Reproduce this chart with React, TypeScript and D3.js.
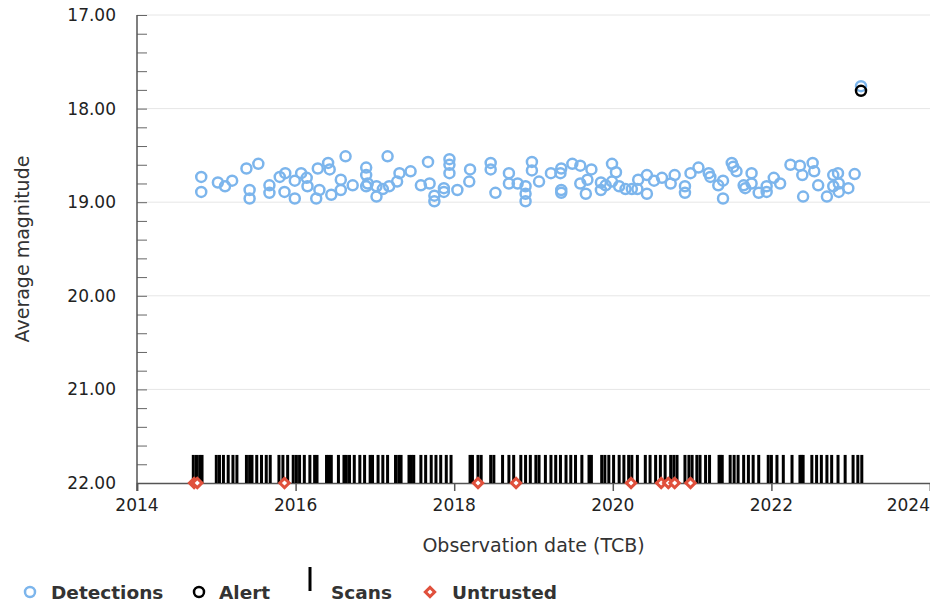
import React, { useEffect, useRef } from 'react';
import * as d3 from 'd3';

// detections: [observation date (decimal year), average magnitude]
const detections: [number, number][] = [
  [2014.81, 18.73], [2014.81, 18.89], [2015.02, 18.79], [2015.11, 18.83], [2015.20, 18.77],
  [2015.38, 18.64], [2015.53, 18.59], [2015.42, 18.87], [2015.42, 18.96], [2015.67, 18.82],
  [2015.67, 18.90], [2015.80, 18.73], [2015.87, 18.69], [2015.86, 18.89], [2015.99, 18.96],
  [2015.99, 18.77], [2016.07, 18.69], [2016.14, 18.74], [2016.15, 18.83], [2016.28, 18.64],
  [2016.41, 18.58], [2016.43, 18.65], [2016.26, 18.96], [2016.30, 18.87], [2016.45, 18.92],
  [2016.57, 18.76], [2016.57, 18.87], [2016.63, 18.51], [2016.72, 18.82],
  [2016.89, 18.63], [2016.89, 18.71], [2016.91, 18.80], [2016.89, 18.83], [2017.02, 18.83],
  [2017.02, 18.94], [2017.10, 18.86], [2017.16, 18.51], [2017.18, 18.83], [2017.28, 18.78],
  [2017.31, 18.69], [2017.45, 18.67], [2017.58, 18.82], [2017.69, 18.80], [2017.67, 18.57],
  [2017.75, 18.93], [2017.75, 18.99], [2017.87, 18.89], [2017.87, 18.85], [2017.94, 18.54],
  [2017.94, 18.60], [2017.94, 18.69], [2018.04, 18.87], [2018.20, 18.65], [2018.19, 18.78],
  [2018.46, 18.58], [2018.46, 18.65], [2018.52, 18.90], [2018.69, 18.69], [2018.69, 18.80],
  [2018.80, 18.80],
  [2018.90, 18.83], [2018.90, 18.91], [2018.90, 18.99], [2018.98, 18.57], [2018.98, 18.66],
  [2019.07, 18.78], [2019.22, 18.69], [2019.35, 18.64], [2019.34, 18.69], [2019.35, 18.87],
  [2019.35, 18.90], [2019.49, 18.59], [2019.59, 18.61], [2019.59, 18.80], [2019.68, 18.76],
  [2019.66, 18.91], [2019.73, 18.65], [2019.85, 18.87], [2019.85, 18.79], [2019.91, 18.82],
  [2019.99, 18.59], [2020.04, 18.68], [2019.99, 18.78], [2020.08, 18.83], [2020.16, 18.86],
  [2020.24, 18.86], [2020.31, 18.86], [2020.32, 18.76], [2020.43, 18.71], [2020.43, 18.91],
  [2020.52, 18.77], [2020.62, 18.74], [2020.73, 18.80], [2020.78, 18.71], [2020.91, 18.83],
  [2020.91, 18.90],
  [2020.98, 18.69], [2021.08, 18.63], [2021.21, 18.69], [2021.23, 18.73], [2021.33, 18.82],
  [2021.39, 18.77], [2021.39, 18.96], [2021.50, 18.58], [2021.52, 18.62], [2021.56, 18.67],
  [2021.65, 18.82], [2021.67, 18.85], [2021.75, 18.69], [2021.75, 18.80], [2021.84, 18.90],
  [2021.94, 18.89], [2021.94, 18.83], [2022.03, 18.74], [2022.11, 18.80], [2022.24, 18.60],
  [2022.36, 18.61], [2022.39, 18.71], [2022.40, 18.94], [2022.52, 18.58], [2022.54, 18.67],
  [2022.59, 18.82], [2022.70, 18.94], [2022.78, 18.71], [2022.84, 18.69], [2022.78, 18.83],
  [2022.85, 18.80], [2022.85, 18.89], [2022.97, 18.85], [2023.05, 18.70], [2023.13, 17.76]
];

const alerts: [number, number][] = [[2023.13, 17.81]];

// scan dates (decimal year)
const scans: number[] = [
  2014.71, 2014.75, 2014.79, 2014.82, 2015.00, 2015.04, 2015.09, 2015.15, 2015.21, 2015.26,
  2015.38, 2015.42, 2015.45, 2015.51, 2015.57, 2015.63, 2015.68, 2015.79, 2015.84, 2015.90,
  2015.97, 2016.01, 2016.05, 2016.11, 2016.18, 2016.24, 2016.27, 2016.39, 2016.42, 2016.45,
  2016.54, 2016.61, 2016.64, 2016.68, 2016.74, 2016.81, 2016.87, 2016.94, 2016.97, 2017.04,
  2017.10, 2017.16, 2017.26, 2017.30, 2017.33, 2017.43, 2017.46, 2017.49, 2017.58, 2017.64,
  2017.71, 2017.77, 2017.83, 2017.90, 2017.96, 2018.20, 2018.23, 2018.30, 2018.34, 2018.46,
  2018.50, 2018.61, 2018.69, 2018.75, 2018.84, 2018.90, 2018.96, 2019.03, 2019.07, 2019.15,
  2019.22, 2019.28, 2019.34, 2019.41, 2019.47, 2019.53, 2019.61, 2019.70, 2019.73, 2019.86,
  2019.90, 2019.95, 2020.01, 2020.08, 2020.14, 2020.20, 2020.24, 2020.31, 2020.41, 2020.47,
  2020.54, 2020.60, 2020.66, 2020.73, 2020.77, 2020.81, 2020.91, 2020.96, 2021.00, 2021.06,
  2021.10, 2021.17, 2021.22, 2021.34, 2021.36, 2021.38, 2021.48, 2021.53, 2021.58, 2021.65,
  2021.71, 2021.77, 2021.84, 2021.96, 2022.00, 2022.07, 2022.15, 2022.26, 2022.36, 2022.38,
  2022.40, 2022.51, 2022.57, 2022.63, 2022.70, 2022.76, 2022.84, 2022.93, 2023.03, 2023.09,
  2023.14
];

const untrusted: [number, number][] = [
  [2014.72, 22], [2014.76, 22], [2015.86, 22], [2018.30, 22], [2018.78, 22],
  [2020.23, 22], [2020.61, 22], [2020.70, 22], [2020.78, 22], [2020.98, 22]
];

const yTicks = [17, 18, 19, 20, 21, 22];
const xTicks = [2014, 2016, 2018, 2020, 2022, 2024];
const scanTop = 21.7;

const FONT = '"DejaVu Sans", sans-serif';

export default function App() {
  const ref = useRef<SVGSVGElement>(null);

  useEffect(() => {
    const svg = d3.select(ref.current);
    svg.selectAll('*').remove();

    const margin = { top: 15, left: 137, right: 0, bottom: 122 };
    const width = 930, height = 605;

    const x = d3.scaleLinear().domain([2014, 2024]).range([margin.left, width - margin.right]);
    const y = d3.scaleLinear().domain([17, 22]).range([margin.top, height - margin.bottom]);

    // grid lines
    svg.append('g')
      .selectAll('line')
      .data(yTicks.slice(0, -1))
      .enter().append('line')
      .attr('x1', x(2014)).attr('x2', x(2024))
      .attr('y1', d => y(d)).attr('y2', d => y(d))
      .attr('stroke', '#e6e6e6').attr('stroke-width', 1);

    // y axis (ticks inside)
    const yAxis = d3.axisRight(y)
      .tickValues(d3.range(17, 22.001, 0.2))
      .tickSize(10)
      .tickFormat(() => '');
    const yg = svg.append('g').attr('transform', `translate(${x(2014)},0)`).call(yAxis);
    yg.select('.domain').remove();
    yg.selectAll('line').attr('stroke', '#666');

    svg.append('line')
      .attr('x1', x(2014)).attr('x2', x(2014))
      .attr('y1', y(17)).attr('y2', y(22) + 8)
      .attr('stroke', '#555').attr('stroke-width', 1.5);

    svg.append('g')
      .selectAll('text')
      .data(yTicks)
      .enter().append('text')
      .attr('x', 116).attr('y', d => y(d) + 6)
      .attr('text-anchor', 'end')
      .attr('font-family', FONT).attr('font-size', 17).attr('fill', '#222')
      .text(d => d.toFixed(2));

    // x axis
    const xAxis = d3.axisBottom(x).tickValues(xTicks).tickSize(8).tickFormat(() => '');
    const xg = svg.append('g').attr('transform', `translate(0,${y(22)})`).call(xAxis);
    xg.select('.domain').attr('stroke', '#555').attr('stroke-width', 1.5);
    xg.selectAll('line').attr('stroke', '#555').attr('stroke-width', 1.5);

    svg.append('g')
      .selectAll('text')
      .data(xTicks)
      .enter().append('text')
      .attr('x', d => (d === 2024 ? width : x(d)))
      .attr('y', y(22) + 28)
      .attr('text-anchor', d => (d === 2024 ? 'end' : 'middle'))
      .attr('font-family', FONT).attr('font-size', 17).attr('fill', '#222')
      .text(d => d);

    // axis titles
    svg.append('text')
      .attr('transform', `translate(29,${(y(17) + y(22)) / 2}) rotate(-90)`)
      .attr('text-anchor', 'middle')
      .attr('font-family', FONT).attr('font-size', 19).attr('fill', '#333')
      .text('Average magnitude');

    svg.append('text')
      .attr('x', (x(2014) + x(2024)) / 2).attr('y', 552)
      .attr('text-anchor', 'middle')
      .attr('font-family', FONT).attr('font-size', 19).attr('fill', '#333')
      .text('Observation date (TCB)');

    // scans
    svg.append('g')
      .selectAll('rect')
      .data(scans)
      .enter().append('rect')
      .attr('x', d => x(d) - 1.5)
      .attr('y', y(scanTop))
      .attr('width', 3)
      .attr('height', y(22) - y(scanTop))
      .attr('fill', '#000');

    const diamond = d3.symbol().type(d3.symbolSquare).size(44);

    // untrusted
    svg.append('g')
      .selectAll('path')
      .data(untrusted)
      .enter().append('path')
      .attr('d', diamond)
      .attr('transform', d => `translate(${x(d[0])},${y(d[1])}) rotate(45)`)
      .attr('fill', '#fff').attr('stroke', '#e0503c').attr('stroke-width', 3);

    // detections
    svg.append('g')
      .selectAll('circle')
      .data(detections)
      .enter().append('circle')
      .attr('cx', d => x(d[0])).attr('cy', d => y(d[1]))
      .attr('r', 5)
      .attr('fill', 'none').attr('stroke', '#7cb5ec').attr('stroke-width', 2.5);

    // alert
    svg.append('g')
      .selectAll('circle')
      .data(alerts)
      .enter().append('circle')
      .attr('cx', d => x(d[0])).attr('cy', d => y(d[1]))
      .attr('r', 5)
      .attr('fill', 'none').attr('stroke', '#000').attr('stroke-width', 2.5);

    // legend
    const legend = svg.append('g').attr('font-family', FONT).attr('font-size', 18.5)
      .attr('font-weight', 'bold').attr('fill', '#333');
    const ly = 592;
    legend.append('circle').attr('cx', 30).attr('cy', ly).attr('r', 5)
      .attr('fill', 'none').attr('stroke', '#7cb5ec').attr('stroke-width', 2.5);
    legend.append('text').attr('x', 51).attr('y', ly + 7).text('Detections');
    legend.append('circle').attr('cx', 199).attr('cy', ly).attr('r', 5)
      .attr('fill', 'none').attr('stroke', '#000').attr('stroke-width', 2.5);
    legend.append('text').attr('x', 219).attr('y', ly + 7).text('Alert');
    legend.append('rect').attr('x', 308.5).attr('y', 567).attr('width', 3).attr('height', 24)
      .attr('fill', '#000');
    legend.append('text').attr('x', 331).attr('y', ly + 7).text('Scans');
    legend.append('path').attr('d', diamond)
      .attr('transform', `translate(430,${ly}) rotate(45)`)
      .attr('fill', '#fff').attr('stroke', '#e0503c').attr('stroke-width', 3);
    legend.append('text').attr('x', 452).attr('y', ly + 7).text('Untrusted');
  }, []);

  return (
    <svg
      ref={ref}
      width={930}
      height={605}
      style={{ position: 'absolute', left: 0, top: 0, background: '#fff' }}
    />
  );
}
